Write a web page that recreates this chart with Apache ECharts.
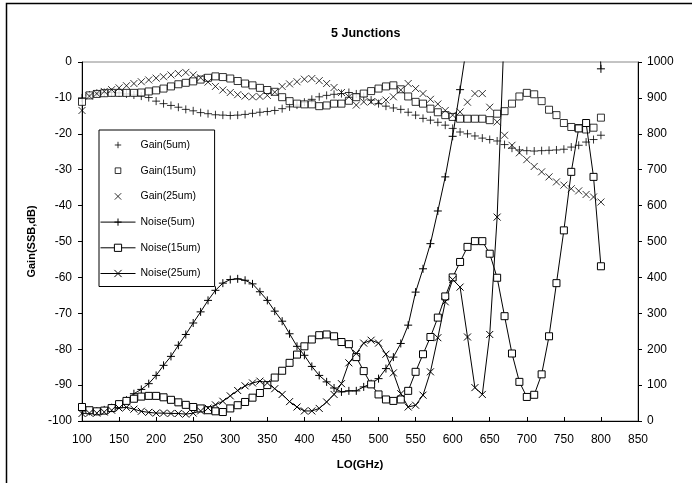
<!DOCTYPE html>
<html>
<head>
<meta charset="utf-8">
<script src="https://cdn.jsdelivr.net/npm/echarts@6/dist/echarts.min.js"></script>
<style>
  html, body { margin: 0; padding: 0; background: #fff; }
  #main { width: 692px; height: 483px; }
</style>
</head>
<body>
<div id="main"></div>
<script>
// LO frequency, GHz (one point every 10 GHz)
var freq = [100,110,120,130,140,150,160,170,180,190,200,210,220,230,240,250,260,270,280,290,
  300,310,320,330,340,350,360,370,380,390,400,410,420,430,440,450,460,470,480,490,
  500,510,520,530,540,550,560,570,580,590,600,610,620,630,640,650,660,670,680,690,
  700,710,720,730,740,750,760,770,780,790,800];

// Gain (SSB, dB), left axis
var gain5 = [-10.0,-9.2,-8.7,-8.5,-8.5,-8.6,-8.9,-9.2,-9.5,-9.9,-10.9,-11.6,-12.1,-12.6,-13.2,-13.6,-14.1,-14.4,-14.7,-14.8,
  -14.9,-14.8,-14.6,-14.3,-14.0,-13.8,-13.5,-13.0,-12.5,-12.0,-11.2,-10.4,-9.7,-9.3,-9.0,-8.8,-8.5,-8.9,-9.6,-10.6,
  -11.6,-12.3,-12.8,-13.2,-14.0,-14.8,-15.7,-16.2,-16.8,-17.6,-18.5,-19.5,-20.0,-20.6,-21.2,-21.6,-22.0,-23.0,-24.0,-24.5,
  -24.7,-24.8,-24.7,-24.6,-24.5,-24.3,-23.7,-23.2,-22.3,-21.6,-20.4];
var gain15 = [-11.1,-9.3,-8.9,-8.7,-8.6,-8.6,-8.6,-8.6,-8.5,-8.2,-7.9,-7.4,-6.8,-6.2,-5.8,-5.4,-4.9,-4.4,-4.0,-4.2,
  -4.6,-5.3,-6.0,-6.5,-7.2,-7.8,-8.3,-9.8,-10.9,-11.6,-11.8,-11.8,-12.3,-12.1,-11.6,-11.6,-10.8,-9.8,-8.8,-8.1,
  -7.4,-6.8,-6.5,-7.6,-9.6,-11.1,-11.6,-13.0,-14.0,-14.8,-15.3,-15.8,-15.8,-15.8,-15.8,-16.2,-14.4,-13.7,-11.6,-9.6,
  -8.6,-9.0,-10.9,-13.3,-14.8,-17.0,-18.1,-18.4,-18.8,-18.3,-15.5];
var gain25 = [-13.5,-9.5,-8.8,-8.2,-7.7,-7.2,-6.6,-6.0,-5.5,-5.0,-4.5,-4.1,-3.6,-3.2,-2.9,-3.6,-4.4,-5.6,-6.8,-7.8,
  -8.5,-9.1,-9.5,-9.7,-9.6,-9.3,-8.4,-6.8,-6.1,-5.5,-4.8,-4.6,-5.2,-6.0,-7.1,-8.5,-9.7,-12.0,-11.1,-11.1,
  -11.1,-10.6,-9.7,-7.8,-6.0,-7.4,-8.8,-10.4,-11.7,-13.5,-14.8,-13.9,-11.2,-8.8,-8.8,-12.6,-16.7,-20.4,-23.2,-25.3,
  -27.2,-29.1,-30.6,-32.0,-33.4,-34.3,-35.3,-35.9,-36.9,-37.6,-39.0];

// Noise, right axis (null = off the top of the chart, not visible)
var noise5 = [30,27,27,31,37,45,58,76,88,104,127,155,180,211,241,273,304,336,364,384,
  394,396,392,382,360,336,306,278,243,208,183,152,127,109,92,81,84,84,95,104,
  118,146,178,216,267,359,424,494,585,680,793,923,1060,null,null,null,null,null,null,null,
  null,null,null,null,null,null,null,null,null,1500,981];
var noise15 = [39,30,27,29,36,47,56,62,68,70,70,66,59,52,45,39,35,30,27,25,
  35,44,53,65,78,100,121,140,162,185,208,227,239,241,236,220,214,178,139,102,
  74,60,56,60,84,137,186,234,288,347,400,443,485,501,501,466,399,292,188,109,
  67,73,130,236,384,531,694,815,830,680,431];
var noise25 = [21,22,22,25,30,36,38,33,27,24,22,22,21,21,19,22,28,36,45,55,
  70,85,98,106,111,106,90,74,54,39,28,28,35,53,74,104,162,188,217,225,
  217,186,134,76,39,44,72,137,232,332,394,373,234,93,74,241,568,1110,null,null,
  null,null,null,null,null,null,null,null,null,null,null];

var xTicks = {min: 100, max: 850, step: 50};
var gainTicks = {min: -100, max: 0, step: 10};
var noiseTicks = {min: 0, max: 1000, step: 100};

var plus = 'path://M0,5L10,5M5,0L5,10';
var cross = 'path://M0,0L10,10M10,0L0,10';
// same marks with some empty margin, for the legend icons
var plusIcon = 'path://M-2,-2M12,12M0,5L10,5M5,0L5,10';
var crossIcon = 'path://M-2,-2M12,12M0,0L10,10M10,0L0,10';
var squareIcon = 'path://M-3,-3M13,13M0,0L10,0L10,10L0,10Z';

function pairs(v) {
  return freq.map(function (f, i) { return [f, v[i]]; });
}

var myChart = echarts.init(document.getElementById('main'));

var axisFont = {fontFamily: 'Liberation Sans, Arial, sans-serif', fontSize: 12, color: '#000'};

var option = {
  animation: false,
  backgroundColor: '#fff',
  textStyle: {fontFamily: 'Liberation Sans, Arial, sans-serif'},
  title: {
    text: '5 Junctions',
    left: 326,
    top: 22,
    textStyle: {fontSize: 12.5, fontWeight: 'bold', color: '#000', fontFamily: 'Liberation Sans, Arial, sans-serif'}
  },
  graphic: [{
    type: 'rect',
    shape: {x: 6.5, y: 3.5, width: 720, height: 520},
    style: {fill: 'none', stroke: '#000', lineWidth: 1.5},
    silent: true
  }],
  legend: {
    orient: 'vertical',
    left: 99,
    top: 130,
    padding: [8, 14, 6, 1],
    backgroundColor: '#fff',
    borderColor: '#000',
    borderWidth: 1,
    borderRadius: 0,
    itemWidth: 35,
    itemHeight: 9,
    itemGap: 11.7,
    textStyle: {fontSize: 10.5, color: '#000', lineHeight: 14, fontFamily: 'Liberation Sans, Arial, sans-serif'},
    itemStyle: {borderWidth: 1, borderColor: '#000'},
    lineStyle: {width: 1, color: '#000'},
    data: [
      {name: 'Gain(5um)', icon: plusIcon},
      {name: 'Gain(15um)', icon: squareIcon},
      {name: 'Gain(25um)', icon: crossIcon},
      'Noise(5um)', 'Noise(15um)', 'Noise(25um)'
    ]
  },
  grid: {
    left: 82, right: 54, top: 62, bottom: 62,
    show: true,
    borderColor: '#888',
    borderWidth: 1
  },
  xAxis: {
    type: 'value',
    min: xTicks.min, max: xTicks.max, interval: xTicks.step,
    name: 'LO(GHz)',
    nameLocation: 'middle',
    nameGap: 38,
    nameTextStyle: {fontSize: 11.5, fontWeight: 'bold', color: '#000'},
    axisLine: {onZero: false, lineStyle: {color: '#000', width: 1}},
    axisTick: {inside: true, length: 4, lineStyle: {color: '#000'}},
    axisLabel: Object.assign({margin: 13}, axisFont),
    splitLine: {show: false}
  },
  yAxis: [{
    type: 'value',
    position: 'left',
    min: gainTicks.min, max: gainTicks.max, interval: gainTicks.step,
    name: 'Gain(SSB,dB)',
    nameLocation: 'middle',
    nameRotate: 90,
    nameGap: 44,
    nameTextStyle: {fontSize: 11, fontWeight: 'bold', color: '#000'},
    axisLine: {show: true, onZero: false, lineStyle: {color: '#000', width: 1}},
    axisTick: {show: true, length: 4, lineStyle: {color: '#000'}},
    axisLabel: Object.assign({margin: 10}, axisFont),
    splitLine: {show: false}
  }, {
    type: 'value',
    position: 'right',
    min: noiseTicks.min, max: noiseTicks.max, interval: noiseTicks.step,
    axisLine: {show: true, onZero: false, lineStyle: {color: '#000', width: 1}},
    axisTick: {show: true, length: 4, lineStyle: {color: '#000'}},
    axisLabel: Object.assign({margin: 9, formatter: function (v) { return String(v); }}, axisFont),
    splitLine: {show: false}
  }],
  series: [{
    name: 'Gain(5um)',
    type: 'scatter',
    yAxisIndex: 0,
    symbol: plus,
    symbolSize: 8,
    itemStyle: {color: '#000', borderColor: '#000', borderWidth: 1},
    data: pairs(gain5)
  }, {
    name: 'Gain(15um)',
    type: 'scatter',
    yAxisIndex: 0,
    symbol: 'rect',
    symbolSize: 7,
    itemStyle: {color: '#fff', borderColor: '#000', borderWidth: 1},
    data: pairs(gain15)
  }, {
    name: 'Gain(25um)',
    type: 'scatter',
    yAxisIndex: 0,
    symbol: cross,
    symbolSize: 7,
    itemStyle: {color: '#000', borderColor: '#000', borderWidth: 1},
    data: pairs(gain25)
  }, {
    name: 'Noise(5um)',
    type: 'line',
    yAxisIndex: 1,
    symbol: plus,
    symbolSize: 8,
    showAllSymbol: true,
    connectNulls: false,
    itemStyle: {color: '#000', borderColor: '#000', borderWidth: 1},
    lineStyle: {color: '#000', width: 1},
    data: pairs(noise5)
  }, {
    name: 'Noise(15um)',
    type: 'line',
    yAxisIndex: 1,
    symbol: 'rect',
    symbolSize: 7,
    showAllSymbol: true,
    itemStyle: {color: '#fff', borderColor: '#000', borderWidth: 1},
    lineStyle: {color: '#000', width: 1},
    data: pairs(noise15)
  }, {
    name: 'Noise(25um)',
    type: 'line',
    yAxisIndex: 1,
    symbol: cross,
    symbolSize: 7,
    showAllSymbol: true,
    connectNulls: false,
    itemStyle: {color: '#000', borderColor: '#000', borderWidth: 1},
    lineStyle: {color: '#000', width: 1},
    data: pairs(noise25)
  }]
};

myChart.setOption(option);
</script>
</body>
</html>
